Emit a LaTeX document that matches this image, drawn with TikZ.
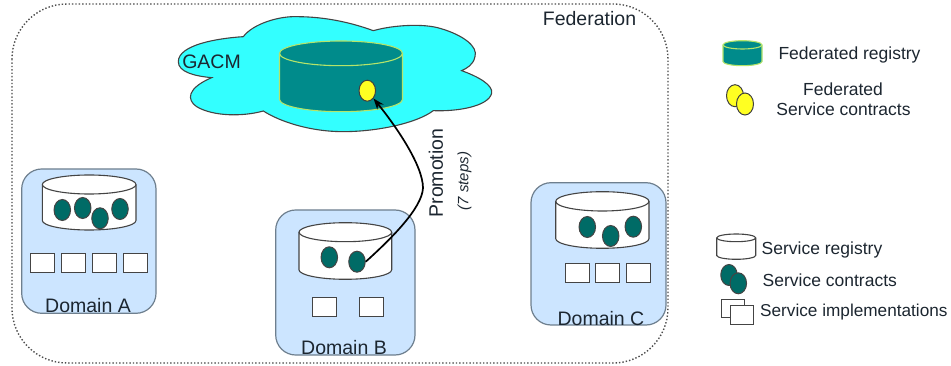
\documentclass[tikz,border=0pt]{standalone}
\usepackage{fontspec}
\setmainfont{Liberation Sans}
\usetikzlibrary{shapes.geometric,arrows.meta}
\definecolor{tealc}{HTML}{006B66}
\definecolor{fedteal}{HTML}{008B8B}
\definecolor{fedline}{HTML}{B4E46A}
\definecolor{cyanc}{HTML}{33FFFF}
\definecolor{domfill}{HTML}{CCE5FF}
\definecolor{domline}{HTML}{6E7F8E}
\definecolor{inkc}{HTML}{1C2630}
\definecolor{shapeline}{HTML}{444444}
\definecolor{yellowc}{HTML}{FFFF22}
\tikzset{
  txt/.style={text=inkc,inner sep=0pt,font=\fontsize{17.5}{20}\selectfont},
  bigtxt/.style={text=inkc,inner sep=0pt,font=\fontsize{19.5}{22}\selectfont},
  federation/.style={draw=black!70,dotted,line width=1.4pt,rounded corners=55pt},
  domainbox/.style={draw=domline,fill=domfill,line width=1.2pt,rounded corners=20pt},
  regbody/.style={draw=shapeline,fill=white,line width=1.1pt},
  fedbody/.style={draw=fedline,fill=fedteal,line width=1.1pt},
  contract/.style={ellipse,draw=shapeline,fill=tealc,line width=1pt,minimum width=16.5pt,minimum height=21pt,inner sep=0pt},
  fedcontract/.style={ellipse,draw=black!75,fill=yellowc,line width=1pt,minimum width=16.5pt,minimum height=21pt,inner sep=0pt},
  impl/.style={rectangle,draw=shapeline,fill=white,line width=1pt,minimum width=24pt,minimum height=19pt,inner sep=0pt},
  promo/.style={draw=black,line width=1.7pt,-{Stealth[length=11pt,width=8pt]}}
}
% #1 style, #2 left, #3 right, #4 top, #5 top-ellipse bottom, #6 bottom
\newcommand{\cylshape}[6]{%
  \pgfmathsetmacro{\rx}{(#3-#2)/2}%
  \pgfmathsetmacro{\ry}{(#5-#4)/2}%
  \pgfmathsetmacro{\cy}{(#5+#4)/2}%
  \pgfmathsetmacro{\by}{#6-\ry}%
  \draw[#1] (#2,\cy) arc[start angle=180,end angle=0,x radius=\rx,y radius=-\ry]
    -- (#3,\by) arc[start angle=0,end angle=-180,x radius=\rx,y radius=-\ry] -- cycle;
  \draw[#1,fill=none] (#2,\cy) arc[start angle=180,end angle=360,x radius=\rx,y radius=-\ry];
}
\begin{document}
\begin{tikzpicture}[x=1pt,y=-1pt]
\useasboundingbox (0,0) rectangle (951,366);
% federation
\draw[federation] (12,4) rectangle (668,363);
\node[bigtxt] (fedlabel) at (589.5,18.5) {Federation};
% cloud
\begin{scope}[shift={(150,0)},x=0.3333pt,y=-0.3333pt]
\draw[draw=shapeline,fill=cyanc,line width=1.1pt]
  (280,110) .. controls (310,70) and (390,48) .. (440,50)
  .. controls (530,50) and (610,70) .. (670,92)
  .. controls (730,75) and (820,70) .. (870,85)
  .. controls (940,105) and (985,140) .. (975,170)
  .. controls (970,195) and (950,205) .. (935,212)
  .. controls (985,230) and (1030,255) .. (1025,280)
  .. controls (1015,320) and (920,335) .. (850,332)
  .. controls (800,370) and (680,395) .. (580,395)
  .. controls (480,395) and (390,365) .. (340,333)
  .. controls (280,350) and (190,350) .. (140,320)
  .. controls (110,300) and (110,265) .. (185,233)
  .. controls (130,228) and (85,215) .. (85,185)
  .. controls (85,135) and (200,115) .. (280,110) -- cycle;
\end{scope}
\node[bigtxt] (gacm) at (211.5,62) {GACM};
\cylshape{fedbody}{279.5}{402.5}{41}{65.7}{111.7}
\node[fedcontract] (fc) at (367.3,90.7) {};
% Domain A
\draw[domainbox] (21.7,169) rectangle (156,313.3);
\cylshape{regbody}{42.3}{136}{175}{194}{230}
\node[contract] (a1) at (62.3,210) {};
\node[contract] (a2) at (82.7,208) {};
\node[contract] (a3) at (120,209) {};
\node[contract] (a4) at (100,218.3) {};
\node[impl] (ai1) at (42.8,262.8) {};
\node[impl] (ai2) at (73.5,262.8) {};
\node[impl] (ai3) at (104.3,262.8) {};
\node[impl] (ai4) at (135,262.8) {};
\node[bigtxt] (dA) at (88,305.5) {Domain A};
% Domain B
\draw[domainbox] (275.7,210) rectangle (415,355);
\cylshape{regbody}{299}{391.7}{222.7}{241.7}{279.3}
\node[contract] (b1) at (329.3,257.3) {};
\node[contract] (b2) at (357,261.7) {};
\node[impl] (bi1) at (324.3,307.2) {};
\node[impl] (bi2) at (371.5,307.2) {};
\node[bigtxt] (dB) at (344,348) {Domain B};
% Domain C
\draw[domainbox] (531,182.7) rectangle (666,325);
\cylshape{regbody}{555.7}{649}{191.7}{211}{248.3}
\node[contract] (c1) at (587.3,227) {};
\node[contract] (c2) at (610.7,236) {};
\node[contract] (c3) at (633.3,226.7) {};
\node[impl] (ci1) at (577.2,273.2) {};
\node[impl] (ci2) at (607.8,273.2) {};
\node[impl] (ci3) at (638.5,273.2) {};
\node[bigtxt] (dC) at (601,318.5) {Domain C};
% promotion
\coordinate (bend) at (423,188);
\draw[promo] (b2.east) .. controls (392,238) and (422,208) .. (bend)
  .. controls (423,165) and (395,125) .. (fc.south east);
\node[txt,rotate=90,font=\fontsize{19.5}{22}\selectfont] (promlabel) at (436,173) {Promotion};
\node[txt,rotate=90,font=\itshape\fontsize{15}{18}\selectfont] (steps) at (464.5,181) {(7 steps)};
% legend
\cylshape{fedbody}{723}{762}{40.7}{49}{65.7}
\node[txt] (l1) at (849.5,55) {Federated registry};
\node[fedcontract,minimum width=17pt,minimum height=22pt] (l2a) at (735,95.7) {};
\node[fedcontract,minimum width=17pt,minimum height=22pt] (l2b) at (745,104) {};
\node[txt,align=center] (l2) at (843,89) {Federated};
\node[txt] (l2c) at (843.5,109) {Service contracts};
\cylshape{regbody}{716.7}{755.7}{234}{241.7}{259.3}
\node[txt,anchor=west] (l3) at (761.5,250) {Service registry};
\node[contract] (l4a) at (729,275) {};
\node[contract] (l4b) at (738.3,283.3) {};
\node[txt,anchor=west] (l4) at (762.5,279.8) {Service contracts};
\node[impl,minimum width=23pt,minimum height=17pt] (l5a) at (732.5,308.5) {};
\node[impl,minimum width=23pt,minimum height=18pt] (l5b) at (742.3,315) {};
\node[txt,anchor=west,font=\fontsize{17.2}{20}\selectfont] (l5) at (760,312.5) {Service implementations};
\end{tikzpicture}
\end{document}
